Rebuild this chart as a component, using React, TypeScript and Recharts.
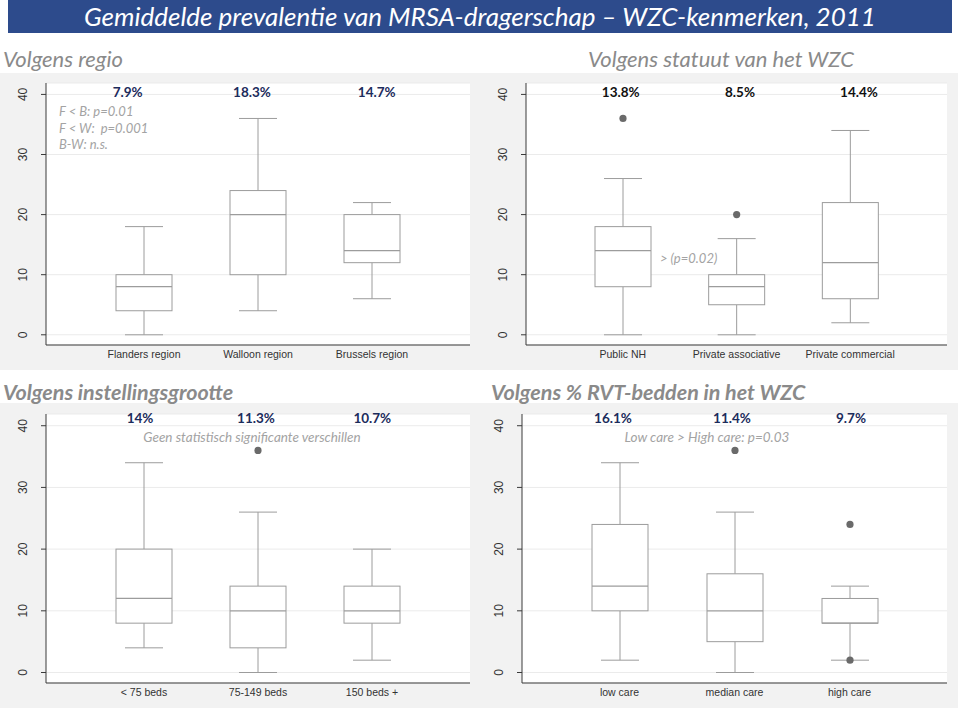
import React from 'react';
import { ComposedChart, Bar, XAxis, YAxis, CartesianGrid } from 'recharts';

// box plot values per panel (min, q1, median, q3, max, outliers)
const regioCats = ['Flanders region', 'Walloon region', 'Brussels region'];
const regioMin = [0, 4, 6];
const regioQ1 = [4, 10, 12];
const regioMed = [8, 20, 14];
const regioQ3 = [10, 24, 20];
const regioMax = [18, 36, 22];
const regioOut: number[][] = [[], [], []];
const regioPct = ['7.9%', '18.3%', '14.7%'];

const statuutCats = ['Public NH', 'Private associative', 'Private commercial'];
const statuutMin = [0, 0, 2];
const statuutQ1 = [8, 5, 6];
const statuutMed = [14, 8, 12];
const statuutQ3 = [18, 10, 22];
const statuutMax = [26, 16, 34];
const statuutOut: number[][] = [[36], [20], []];
const statuutPct = ['13.8%', '8.5%', '14.4%'];

const grootteCats = ['< 75 beds', '75-149 beds', '150 beds +'];
const grootteMin = [4, 0, 2];
const grootteQ1 = [8, 4, 8];
const grootteMed = [12, 10, 10];
const grootteQ3 = [20, 14, 14];
const grootteMax = [34, 26, 20];
const grootteOut: number[][] = [[], [36], []];
const groottePct = ['14%', '11.3%', '10.7%'];

const rvtCats = ['low care', 'median care', 'high care'];
const rvtMin = [2, 0, 2];
const rvtQ1 = [10, 5, 8];
const rvtMed = [14, 10, 8];
const rvtQ3 = [24, 16, 12];
const rvtMax = [34, 26, 14];
const rvtOut: number[][] = [[], [36], [24, 2]];
const rvtPct = ['16.1%', '11.4%', '9.7%'];

const yTicks = [0, 10, 20, 30, 40];

const build = (cats: string[], mn: number[], q1: number[], md: number[], q3: number[], mx: number[], out: number[][]) =>
  cats.map((name, i) => ({ name, min: mn[i], q1: q1[i], med: md[i], q3: q3[i], max: mx[i], out: out[i] }));

const BOX = '#9c9c9c';
const AXIS = '#3a3a3a';
const CALIBRI = 'Lato, "Open Sans", sans-serif';
const ARIAL = 'Arial, "Liberation Sans", sans-serif';

const BoxShape = (props: any) => {
  const { x, y, width, height, payload } = props;
  const top = Math.min(y, y + height);
  const bottom = Math.max(y, y + height);
  const span = payload.max - payload.min;
  const py = (v: number) => bottom - ((v - payload.min) / span) * (bottom - top);
  const cx = x + width / 2;
  const cap = 19;
  return (
    <g>
      <line x1={cx} x2={cx} y1={py(payload.max)} y2={py(payload.q3)} stroke={BOX} />
      <line x1={cx} x2={cx} y1={py(payload.q1)} y2={py(payload.min)} stroke={BOX} />
      <line x1={cx - cap} x2={cx + cap} y1={py(payload.max)} y2={py(payload.max)} stroke={BOX} />
      <line x1={cx - cap} x2={cx + cap} y1={py(payload.min)} y2={py(payload.min)} stroke={BOX} />
      <rect x={x} y={py(payload.q3)} width={width} height={py(payload.q1) - py(payload.q3)} fill="#fff" stroke={BOX} />
      <line x1={x} x2={x + width} y1={py(payload.med)} y2={py(payload.med)} stroke={BOX} strokeWidth={1.3} />
      {payload.out.map((v: number, k: number) => (
        <circle key={k} cx={cx} cy={py(v)} r={3.6} fill="#6a6a6a" />
      ))}
    </g>
  );
};

const YTick = ({ x, y, payload }: any) => (
  <text x={x} y={y} transform={`rotate(-90 ${x} ${y})`} textAnchor="middle" fontSize={12} fill="#333" fontFamily={ARIAL}>
    {payload.value}
  </text>
);

const XTick = ({ x, y, payload }: any) => (
  <text x={x} y={y} textAnchor="middle" dominantBaseline="central" fontSize={10.5} fill="#333" fontFamily={ARIAL}>
    {payload.value}
  </text>
);

interface PanelProps {
  data: any[];
  left: number;
  top: number;
  height: number;
  yw: number;
  mTop: number;
  mRight: number;
  pad: number;
}

const BoxPanel = ({ data, left, top, height, yw, mTop, mRight, pad }: PanelProps) => (
  <div style={{ position: 'absolute', left, top }}>
    <ComposedChart width={478} height={height} data={data} margin={{ top: mTop, right: mRight, bottom: 5, left: 0 }}>
      <CartesianGrid vertical={false} fill="#fff" stroke="#ebebeb" />
      <XAxis dataKey="name" padding={{ left: pad, right: pad }} height={20} interval={0}
        axisLine={{ stroke: AXIS }} tickLine={false} tickSize={0} tickMargin={9} tick={<XTick />} />
      <YAxis type="number" domain={[-1.7, 41.9]} ticks={yTicks} allowDataOverflow width={yw}
        axisLine={{ stroke: AXIS }} tickLine={{ stroke: AXIS }} tickSize={5} tickMargin={14} tick={<YTick />} />
      <Bar dataKey={(d: any) => [d.min, d.max]} barSize={56} shape={<BoxShape />} isAnimationActive={false} />
    </ComposedChart>
  </div>
);

const Txt = ({ x, y, children, style }: any) => (
  <div style={{ position: 'absolute', left: x, top: y, whiteSpace: 'nowrap', transform: 'translate(-50%, -50%)', ...style }}>
    {children}
  </div>
);

const pctStyle = { fontFamily: CALIBRI, fontWeight: 700, fontSize: 13.5, color: '#1c2c5c' };
const noteStyle = { fontFamily: CALIBRI, fontStyle: 'italic', fontSize: 13, color: '#a3a3a3' };
const secStyle = { position: 'absolute' as const, fontFamily: CALIBRI, fontStyle: 'italic', fontSize: 22, color: '#8a8a8a', whiteSpace: 'nowrap' as const };

export default function App() {
  return (
    <div style={{ position: 'absolute', left: 0, top: 0, width: 960, height: 711, background: '#fff', overflow: 'hidden' }}>
      <div style={{ position: 'absolute', left: 8, top: 0, width: 944, height: 33, background: '#2d4b8c',
        color: '#fff', fontFamily: CALIBRI, fontStyle: 'italic', fontSize: 26, lineHeight: '32px', textAlign: 'center' }}>
        Gemiddelde prevalentie van MRSA-dragerschap – WZC-kenmerken, 2011
      </div>
      <div style={{ ...secStyle, left: 3, top: 45 }}>Volgens regio</div>
      <div style={{ ...secStyle, left: 588, top: 45 }}>Volgens statuut van het WZC</div>
      <div style={{ position: 'absolute', left: 0, top: 73, width: 958, height: 297, background: '#f2f2f2' }} />
      <div style={{ position: 'absolute', left: 0, top: 403, width: 958, height: 305, background: '#f2f2f2' }} />
      <div style={{ ...secStyle, left: 3, top: 379, fontWeight: 700, fontSize: 21.5 }}>Volgens instellingsgrootte</div>
      <div style={{ ...secStyle, left: 491, top: 379, fontWeight: 700, fontSize: 21.5 }}>Volgens % RVT-bedden in het WZC</div>

      <BoxPanel data={build(regioCats, regioMin, regioQ1, regioMed, regioQ3, regioMax, regioOut)}
        left={0} top={73} height={297} yw={46} mTop={10} mRight={8} pad={41} />
      <BoxPanel data={build(statuutCats, statuutMin, statuutQ1, statuutMed, statuutQ3, statuutMax, statuutOut)}
        left={480} top={73} height={297} yw={46} mTop={10} mRight={11} pad={40} />
      <BoxPanel data={build(grootteCats, grootteMin, grootteQ1, grootteMed, grootteQ3, grootteMax, grootteOut)}
        left={0} top={403} height={305} yw={46} mTop={11} mRight={8} pad={41} />
      <BoxPanel data={build(rvtCats, rvtMin, rvtQ1, rvtMed, rvtQ3, rvtMax, rvtOut)}
        left={480} top={403} height={305} yw={42} mTop={11} mRight={11} pad={40} />

      {[127.6, 252, 376.7].map((x, i) => <Txt key={'a' + i} x={x} y={92} style={pctStyle}>{regioPct[i]}</Txt>)}
      {[620.7, 740, 859].map((x, i) => <Txt key={'b' + i} x={x} y={92} style={{ ...pctStyle, color: '#111' }}>{statuutPct[i]}</Txt>)}
      {[140, 256, 372.3].map((x, i) => <Txt key={'c' + i} x={x} y={418} style={pctStyle}>{groottePct[i]}</Txt>)}
      {[613, 732, 851].map((x, i) => <Txt key={'d' + i} x={x} y={418} style={pctStyle}>{rvtPct[i]}</Txt>)}

      <div style={{ position: 'absolute', left: 59, top: 103, ...noteStyle, lineHeight: '16.5px', whiteSpace: 'pre' }}>
        {'F < B: p=0.01\nF < W:  p=0.001\nB-W: n.s.'}
      </div>
      <div style={{ position: 'absolute', left: 660, top: 250, ...noteStyle }}>{'> (p=0.02)'}</div>
      <Txt x={252} y={437} style={{ ...noteStyle, fontSize: 13.5 }}>Geen statistisch significante verschillen</Txt>
      <Txt x={707} y={437} style={{ ...noteStyle, fontSize: 13.5 }}>{'Low care > High care: p=0.03'}</Txt>
    </div>
  );
}
